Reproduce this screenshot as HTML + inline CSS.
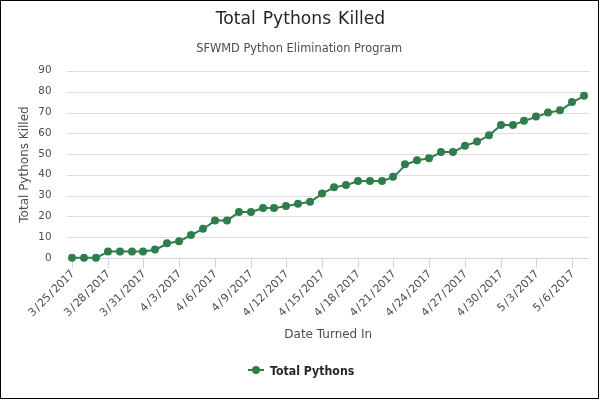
<!DOCTYPE html>
<html><head><meta charset="utf-8"><title>Total Pythons Killed</title>
<style>
html,body{margin:0;padding:0;background:#fff;}
body{width:600px;height:400px;overflow:hidden;}
svg{display:block;will-change:transform;font-family:"DejaVu Sans", "Liberation Sans", sans-serif;}
</style></head><body>
<svg width="600" height="400" viewBox="0 0 600 400">
<rect x="0" y="0" width="600" height="400" fill="#ffffff"/>

<g fill="#dddddd">
<rect x="67" y="237" width="522.5" height="1"/>
<rect x="67" y="216" width="522.5" height="1"/>
<rect x="67" y="196" width="522.5" height="1"/>
<rect x="67" y="175" width="522.5" height="1"/>
<rect x="67" y="154" width="522.5" height="1"/>
<rect x="67" y="133" width="522.5" height="1"/>
<rect x="67" y="113" width="522.5" height="1"/>
<rect x="67" y="92" width="522.5" height="1"/>
<rect x="67" y="71" width="522.5" height="1"/>
</g>
<rect x="67" y="258" width="522.5" height="1" fill="#ccd6eb"/>
<g fill="#ccd6eb">
<rect x="72" y="258" width="1" height="10"/>
<rect x="108" y="258" width="1" height="10"/>
<rect x="143" y="258" width="1" height="10"/>
<rect x="179" y="258" width="1" height="10"/>
<rect x="215" y="258" width="1" height="10"/>
<rect x="251" y="258" width="1" height="10"/>
<rect x="286" y="258" width="1" height="10"/>
<rect x="322" y="258" width="1" height="10"/>
<rect x="358" y="258" width="1" height="10"/>
<rect x="393" y="258" width="1" height="10"/>
<rect x="429" y="258" width="1" height="10"/>
<rect x="465" y="258" width="1" height="10"/>
<rect x="501" y="258" width="1" height="10"/>
<rect x="536" y="258" width="1" height="10"/>
<rect x="572" y="258" width="1" height="10"/>
</g>
<g font-size="11" fill="#4d4d4d" text-anchor="end">
<text x="51.5" y="261" textLength="6.6" lengthAdjust="spacingAndGlyphs">0</text>
<text x="51.5" y="240" textLength="13.2" lengthAdjust="spacingAndGlyphs">10</text>
<text x="51.5" y="219" textLength="13.2" lengthAdjust="spacingAndGlyphs">20</text>
<text x="51.5" y="198" textLength="13.2" lengthAdjust="spacingAndGlyphs">30</text>
<text x="51.5" y="177" textLength="13.2" lengthAdjust="spacingAndGlyphs">40</text>
<text x="51.5" y="157" textLength="13.2" lengthAdjust="spacingAndGlyphs">50</text>
<text x="51.5" y="136" textLength="13.2" lengthAdjust="spacingAndGlyphs">60</text>
<text x="51.5" y="115" textLength="13.2" lengthAdjust="spacingAndGlyphs">70</text>
<text x="51.5" y="94" textLength="13.2" lengthAdjust="spacingAndGlyphs">80</text>
<text x="51.5" y="73" textLength="13.2" lengthAdjust="spacingAndGlyphs">90</text>
</g>
<g font-size="11" fill="#4d4d4d" text-anchor="end">
<text x="75.25" y="274.2" dx="-0.17 1.30 1.30 -0.35 1.30 1.30 -0.35 -0.35 -0.35" transform="rotate(-45 75.25 274.2)">3/25/2017</text>
<text x="110.96" y="274.2" dx="-0.17 1.30 1.30 -0.35 1.30 1.30 -0.35 -0.35 -0.35" transform="rotate(-45 110.96 274.2)">3/28/2017</text>
<text x="146.68" y="274.2" dx="-0.17 1.30 1.30 -0.35 1.30 1.30 -0.35 -0.35 -0.35" transform="rotate(-45 146.68 274.2)">3/31/2017</text>
<text x="182.39" y="274.2" dx="-0.17 1.30 1.30 1.30 1.30 -0.35 -0.35 -0.35" transform="rotate(-45 182.39 274.2)">4/3/2017</text>
<text x="218.11" y="274.2" dx="-0.17 1.30 1.30 1.30 1.30 -0.35 -0.35 -0.35" transform="rotate(-45 218.11 274.2)">4/6/2017</text>
<text x="253.82" y="274.2" dx="-0.17 1.30 1.30 1.30 1.30 -0.35 -0.35 -0.35" transform="rotate(-45 253.82 274.2)">4/9/2017</text>
<text x="289.54" y="274.2" dx="-0.17 1.30 1.30 -0.35 1.30 1.30 -0.35 -0.35 -0.35" transform="rotate(-45 289.54 274.2)">4/12/2017</text>
<text x="325.25" y="274.2" dx="-0.17 1.30 1.30 -0.35 1.30 1.30 -0.35 -0.35 -0.35" transform="rotate(-45 325.25 274.2)">4/15/2017</text>
<text x="360.97" y="274.2" dx="-0.17 1.30 1.30 -0.35 1.30 1.30 -0.35 -0.35 -0.35" transform="rotate(-45 360.97 274.2)">4/18/2017</text>
<text x="396.69" y="274.2" dx="-0.17 1.30 1.30 -0.35 1.30 1.30 -0.35 -0.35 -0.35" transform="rotate(-45 396.69 274.2)">4/21/2017</text>
<text x="432.40" y="274.2" dx="-0.17 1.30 1.30 -0.35 1.30 1.30 -0.35 -0.35 -0.35" transform="rotate(-45 432.40 274.2)">4/24/2017</text>
<text x="468.11" y="274.2" dx="-0.17 1.30 1.30 -0.35 1.30 1.30 -0.35 -0.35 -0.35" transform="rotate(-45 468.11 274.2)">4/27/2017</text>
<text x="503.83" y="274.2" dx="-0.17 1.30 1.30 -0.35 1.30 1.30 -0.35 -0.35 -0.35" transform="rotate(-45 503.83 274.2)">4/30/2017</text>
<text x="539.54" y="274.2" dx="-0.17 1.30 1.30 1.30 1.30 -0.35 -0.35 -0.35" transform="rotate(-45 539.54 274.2)">5/3/2017</text>
<text x="575.26" y="274.2" dx="-0.17 1.30 1.30 1.30 1.30 -0.35 -0.35 -0.35" transform="rotate(-45 575.26 274.2)">5/6/2017</text>
</g>
<polyline points="72.55,257.80 84.45,257.80 96.36,257.80 108.26,251.57 120.17,251.57 132.07,251.57 143.98,251.57 155.88,249.49 167.79,243.26 179.69,241.19 191.60,234.96 203.50,228.73 215.41,220.42 227.31,220.42 239.22,212.12 251.12,212.12 263.03,207.96 274.94,207.96 286.84,205.89 298.75,203.81 310.65,201.73 322.56,193.43 334.46,187.20 346.37,185.12 358.27,180.97 370.18,180.97 382.08,180.97 393.99,176.82 405.89,164.36 417.80,160.20 429.70,158.13 441.61,151.90 453.51,151.90 465.41,145.67 477.32,141.52 489.22,135.29 501.13,124.90 513.03,124.90 524.94,120.75 536.84,116.60 548.75,112.45 560.65,110.37 572.56,102.06 584.46,95.83" fill="none" stroke="#2f7d4a" stroke-width="2" stroke-linejoin="round" stroke-linecap="round"/>
<g fill="#2f7d4a">
<circle cx="72" cy="257.80" r="4"/>
<circle cx="84" cy="257.80" r="4"/>
<circle cx="96" cy="257.80" r="4"/>
<circle cx="108" cy="251.57" r="4"/>
<circle cx="120" cy="251.57" r="4"/>
<circle cx="132" cy="251.57" r="4"/>
<circle cx="143" cy="251.57" r="4"/>
<circle cx="155" cy="249.49" r="4"/>
<circle cx="167" cy="243.26" r="4"/>
<circle cx="179" cy="241.19" r="4"/>
<circle cx="191" cy="234.96" r="4"/>
<circle cx="203" cy="228.73" r="4"/>
<circle cx="215" cy="220.42" r="4"/>
<circle cx="227" cy="220.42" r="4"/>
<circle cx="239" cy="212.12" r="4"/>
<circle cx="251" cy="212.12" r="4"/>
<circle cx="263" cy="207.96" r="4"/>
<circle cx="274" cy="207.96" r="4"/>
<circle cx="286" cy="205.89" r="4"/>
<circle cx="298" cy="203.81" r="4"/>
<circle cx="310" cy="201.73" r="4"/>
<circle cx="322" cy="193.43" r="4"/>
<circle cx="334" cy="187.20" r="4"/>
<circle cx="346" cy="185.12" r="4"/>
<circle cx="358" cy="180.97" r="4"/>
<circle cx="370" cy="180.97" r="4"/>
<circle cx="382" cy="180.97" r="4"/>
<circle cx="393" cy="176.82" r="4"/>
<circle cx="405" cy="164.36" r="4"/>
<circle cx="417" cy="160.20" r="4"/>
<circle cx="429" cy="158.13" r="4"/>
<circle cx="441" cy="151.90" r="4"/>
<circle cx="453" cy="151.90" r="4"/>
<circle cx="465" cy="145.67" r="4"/>
<circle cx="477" cy="141.52" r="4"/>
<circle cx="489" cy="135.29" r="4"/>
<circle cx="501" cy="124.90" r="4"/>
<circle cx="513" cy="124.90" r="4"/>
<circle cx="524" cy="120.75" r="4"/>
<circle cx="536" cy="116.60" r="4"/>
<circle cx="548" cy="112.45" r="4"/>
<circle cx="560" cy="110.37" r="4"/>
<circle cx="572" cy="102.06" r="4"/>
<circle cx="584" cy="95.83" r="4"/>
</g>
<text x="300.4" y="24.0" font-size="18" fill="#262626" text-anchor="middle" word-spacing="1.6" style="word-spacing:1.6px" textLength="169.5" lengthAdjust="spacingAndGlyphs">Total Pythons Killed</text>
<text x="299.2" y="52" font-size="12" fill="#4d4d4d" text-anchor="middle" textLength="206" lengthAdjust="spacingAndGlyphs">SFWMD Python Elimination Program</text>
<text x="28" y="164.5" font-size="12" fill="#4d4d4d" text-anchor="middle" transform="rotate(-90 28 164.5)">Total Pythons Killed</text>
<text x="328.25" y="338" font-size="12" fill="#4d4d4d" text-anchor="middle">Date Turned In</text>
<rect x="248" y="369" width="16" height="2" fill="#2f7d4a"/>
<circle cx="256" cy="370" r="4" fill="#2f7d4a"/>
<text x="270" y="374.5" font-size="12" font-weight="bold" fill="#262626" textLength="84.25" lengthAdjust="spacingAndGlyphs">Total Pythons</text>
<g fill="#000000"><rect x="0" y="0" width="599" height="1"/><rect x="0" y="0" width="1" height="399"/><rect x="598" y="0" width="1" height="399"/><rect x="0" y="398" width="599" height="1"/></g>
</svg></body></html>
